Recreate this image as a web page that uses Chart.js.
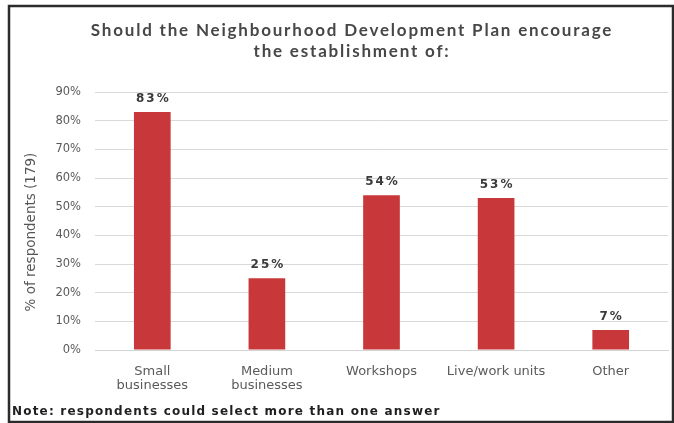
<!DOCTYPE html>
<html>
<head>
<meta charset="utf-8">
<script src="https://cdn.jsdelivr.net/npm/chart.js@4/dist/chart.umd.min.js"></script>
<style>
  html, body { margin: 0; padding: 0; background: #ffffff; }
  #wrap { position: relative; width: 674px; height: 423px; }
</style>
</head>
<body>
<div id="wrap"><canvas id="chart" width="674" height="423"></canvas></div>
<script>
// Survey results: share of respondents choosing each option
const categories = [["Small", "businesses"], ["Medium", "businesses"], "Workshops", "Live/work units", "Other"];
const percentValues = [83, 25, 54, 53, 7];
const titleLines = ["Should the Neighbourhood Development Plan encourage", "the establishment of:"];
const yAxisTitle = "% of respondents (179)";
const noteText = "Note: respondents could select more than one answer";

const TITLE_FONT = "Lato, 'Open Sans', sans-serif";
const BODY_FONT = "'DejaVu Sans', Verdana, sans-serif";

// Frame, heading, vertical axis caption and footnote drawn around the plot
const decorations = {
  id: 'decorations',
  beforeDraw(chart) {
    const ctx = chart.ctx;
    ctx.save();
    ctx.fillStyle = '#ffffff';
    ctx.fillRect(0, 0, chart.width, chart.height);
    ctx.restore();
  },
  afterDraw(chart) {
    const ctx = chart.ctx;
    ctx.save();
    ctx.strokeStyle = '#2b2b2b';
    ctx.lineWidth = 2.5;
    ctx.strokeRect(9, 6, 664, 416);

    ctx.fillStyle = '#474747';
    ctx.font = "bold 17px " + TITLE_FONT;
    ctx.letterSpacing = '1.8px';
    ctx.textAlign = 'center';
    ctx.textBaseline = 'middle';
    ctx.fillText(titleLines[0], 352, 31);
    ctx.fillText(titleLines[1], 352, 52);

    ctx.save();
    ctx.translate(31, 232);
    ctx.rotate(-Math.PI / 2);
    ctx.fillStyle = '#555555';
    ctx.font = "13.5px " + BODY_FONT;
    ctx.letterSpacing = '0px';
    ctx.fillText(yAxisTitle, 0, 0);
    ctx.restore();

    ctx.fillStyle = '#1f1f1f';
    ctx.font = "bold 12px " + BODY_FONT;
    ctx.letterSpacing = '1.2px';
    ctx.textAlign = 'left';
    ctx.fillText(noteText, 12, 412);
    ctx.restore();
  }
};

// Percentage labels above each bar
const valueLabels = {
  id: 'valueLabels',
  afterDatasetsDraw(chart) {
    const ctx = chart.ctx;
    const meta = chart.getDatasetMeta(0);
    ctx.save();
    ctx.fillStyle = '#3a3a3a';
    ctx.font = "bold 12px " + BODY_FONT;
    ctx.letterSpacing = '2px';
    ctx.textAlign = 'center';
    ctx.textBaseline = 'bottom';
    meta.data.forEach((bar, i) => {
      ctx.fillText(percentValues[i] + '%', bar.x + 1, bar.y - 7);
    });
    ctx.restore();
  }
};

new Chart(document.getElementById('chart'), {
  type: 'bar',
  data: {
    labels: categories,
    datasets: [{
      data: percentValues,
      backgroundColor: '#c8383a',
      borderWidth: 0,
      categoryPercentage: 1,
      barPercentage: 0.32
    }]
  },
  options: {
    responsive: false,
    animation: false,
    layout: { padding: { left: 42, right: 6, top: 92, bottom: 33 } },
    plugins: {
      legend: { display: false },
      title: { display: false },
      tooltip: { enabled: false }
    },
    scales: {
      x: {
        grid: { display: false },
        border: { color: '#d4d4d4' },
        ticks: { color: '#5a5a5a', font: { family: BODY_FONT, size: 13, lineHeight: 1.1 }, padding: 6, maxRotation: 0, autoSkip: false },
        afterFit(scale) { scale.height = 40; }
      },
      y: {
        min: 0,
        max: 90,
        grid: { color: '#d9d9d9', drawTicks: false },
        border: { display: false },
        ticks: {
          stepSize: 10,
          color: '#5a5a5a',
          font: { family: BODY_FONT, size: 11.5 },
          padding: 14,
          callback: v => v + '%'
        },
        afterFit(scale) { scale.width = 53; }
      }
    }
  },
  plugins: [decorations, valueLabels]
});
</script>
</body>
</html>
